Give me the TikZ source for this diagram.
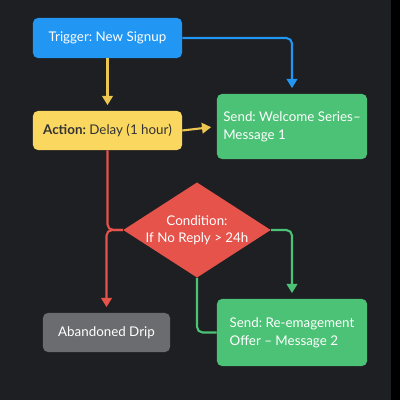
\documentclass[tikz,border=0pt]{standalone}
\usepackage{fontspec}
\setmainfont{Lato}
\usepackage{xcolor}
\definecolor{bgdark}{RGB}{30,31,34}
\definecolor{flowblue}{RGB}{33,150,243}
\definecolor{flowyellow}{RGB}{250,215,95}
\definecolor{lineyellow}{RGB}{236,198,80}
\definecolor{flowgreen}{RGB}{76,194,118}
\definecolor{flowred}{RGB}{229,83,75}
\definecolor{flowgray}{RGB}{107,108,111}
\definecolor{inkdark}{RGB}{51,51,51}
\usepackage{tikz}
\usetikzlibrary{shapes.geometric}
\usetikzlibrary{arrows.meta}
\frenchspacing
\tikzset{
    box/.style={rectangle, rounded corners=3.5pt, inner sep=0pt, text=white, font=\fontsize{9.5}{11.5}\selectfont},
    trig/.style={box, fill=flowblue, minimum width=3.725cm, minimum height=1cm},
    act/.style={box, fill=flowyellow, text=inkdark, minimum width=3.725cm, minimum height=0.975cm},
    send/.style={box, fill=flowgreen, minimum width=3.75cm, align=left, font=\fontsize{9.5}{13}\selectfont},
    stop/.style={box, fill=flowgray, minimum width=3.175cm, minimum height=0.975cm},
    cond/.style={diamond, fill=flowred, text=white, inner sep=0pt, aspect=1.55, minimum width=3.325cm, minimum height=2.15cm, align=center, font=\fontsize{9.5}{12}\selectfont},
    flow/.style={line width=1.5pt, rounded corners=4pt},
    tip/.style={-{Triangle[width=7.5pt,length=6.5pt]}, shorten >=4pt}
}
\begin{document}
\begin{tikzpicture}[x=0.025cm, y=-0.025cm]
    \fill[bgdark] (0,0) rectangle (400,400);
    \fill[black] (391,0) rectangle (400,400);
    \useasboundingbox (0,0) rectangle (400,400);

    \node[trig] (trigger) at (107.5,38) {Trigger: New Signup};
    \node[act] (action) at (107.5,130.5) {\textbf{Action:} Delay (1 hour)};
    \node[send, minimum height=1.625cm] (welcome) at (292,126.5) {Send: Welcome Series–\\Message 1};
    \node[cond] (check) at (197,230) {Condition:\\If No Reply > 24h};
    \node[stop] (abandoned) at (106.5,332.5) {Abandoned Drip};
    \node[send, minimum height=1.675cm] (reengage) at (292,332.5) {Send: Re-emagement\\Offer – Message 2};

    \draw[flow, tip, flowblue] (trigger.east) -| (welcome.north);
    \draw[flow, tip, lineyellow] (trigger.south) -- (action.north);
    \draw[flow, tip, lineyellow] (action.east) -- (welcome.west);
    \draw[flow, flowred] (action.south) |- (check.west);
    \draw[flow, tip, flowred] (check.west) -| (abandoned.north);
    \draw[flow, tip, flowgreen] (check.east) -| (reengage.north);
    \draw[flow, flowgreen] (check.south) |- (reengage.west);
\end{tikzpicture}
\end{document}
